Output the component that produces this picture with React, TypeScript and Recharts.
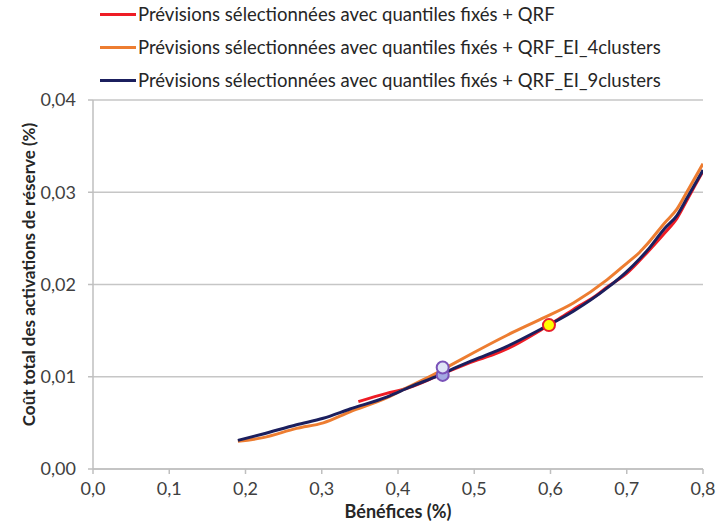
import React from 'react';
import { ComposedChart, Line, Scatter, XAxis, YAxis, CartesianGrid, Legend } from 'recharts';

const NAME_QRF = 'Prévisions sélectionnées avec quantiles fixés + QRF';
const NAME_4 = 'Prévisions sélectionnées avec quantiles fixés + QRF_EI_4clusters';
const NAME_9 = 'Prévisions sélectionnées avec quantiles fixés + QRF_EI_9clusters';

const qrfX = [0.348, 0.385, 0.41, 0.455, 0.5, 0.525, 0.545, 0.586, 0.598, 0.615, 0.63, 0.66, 0.674, 0.7, 0.726, 0.75, 0.766, 0.78, 0.8];
const qrfY = [0.0073, 0.0082, 0.0087, 0.0102, 0.0117, 0.0124, 0.0131, 0.015, 0.0156, 0.0165, 0.0173, 0.0188, 0.0197, 0.0212, 0.0234, 0.0256, 0.0272, 0.0293, 0.0323];

const c4X = [0.19, 0.223, 0.267, 0.302, 0.337, 0.385, 0.416, 0.455, 0.468, 0.499, 0.543, 0.586, 0.63, 0.674, 0.7, 0.717, 0.726, 0.75, 0.766, 0.78, 0.8];
const c4Y = [0.003, 0.0034, 0.0044, 0.005, 0.0062, 0.0077, 0.009, 0.0106, 0.0112, 0.0126, 0.0145, 0.0162, 0.018, 0.0205, 0.0223, 0.0235, 0.0243, 0.0267, 0.0282, 0.0302, 0.0331];

const c9X = [0.19, 0.223, 0.267, 0.302, 0.337, 0.385, 0.416, 0.455, 0.468, 0.499, 0.543, 0.586, 0.63, 0.674, 0.7, 0.717, 0.726, 0.75, 0.766, 0.78, 0.8];
const c9Y = [0.0031, 0.0038, 0.0048, 0.0055, 0.0065, 0.0078, 0.0089, 0.0102, 0.0107, 0.0118, 0.0133, 0.0151, 0.0171, 0.0196, 0.0214, 0.0228, 0.0236, 0.0261, 0.0275, 0.0295, 0.0324];

const markYellow = [{ x: 0.598, y: 0.0156 }];
const markLight = [{ x: 0.4586, y: 0.011 }];
const markPurple = [{ x: 0.4586, y: 0.0102 }];

const xTicks = [0, 0.1, 0.2, 0.3, 0.4, 0.5, 0.6, 0.7, 0.8];
const yTicks = [0, 0.01, 0.02, 0.03, 0.04];

const zip = (xs: number[], ys: number[]) => xs.map((x, i) => ({ x, y: ys[i] }));
const qrfData = zip(qrfX, qrfY);
const c4Data = zip(c4X, c4Y);
const c9Data = zip(c9X, c9Y);

const FONT = 'Lato, "Open Sans", sans-serif';

const renderLegend = (props: any) => {
  const items = (props.payload || []).filter((p: any) => p.type !== 'none');
  return (
    <div style={{ position: 'relative', height: 90, width: 718, fontFamily: FONT }}>
      {items.map((p: any, i: number) => (
        <div key={i} style={{ position: 'absolute', left: 100, top: 14 + i * 33 - 12, height: 24, display: 'flex', alignItems: 'center' }}>
          <div style={{ width: 36, height: 3, background: p.color }} />
          <span style={{ marginLeft: 2, fontSize: 18.5, color: '#262626', whiteSpace: 'nowrap' }}>{p.value}</span>
        </div>
      ))}
    </div>
  );
};

const dot = (fill: string, stroke: string) => (props: any) => (
  <circle cx={props.cx} cy={props.cy} r={6} fill={fill} stroke={stroke} strokeWidth={2} />
);

export default function App() {
  return (
    <div style={{ position: 'absolute', left: 0, top: 0, background: '#fff' }}>
      <ComposedChart width={718} height={526} margin={{ top: 10, right: 15, bottom: 0, left: 0 }}>
        <CartesianGrid horizontal vertical={false} stroke="#c6c6c6" strokeWidth={1.5} />
        <XAxis
          type="number"
          dataKey="x"
          domain={[0, 0.8]}
          ticks={xTicks}
          tickFormatter={(v: number) => v.toFixed(1).replace('.', ',')}
          height={57}
          stroke="#bfbfbf"
          strokeWidth={1.5}
          tickSize={5}
          tickMargin={8}
          tick={{ fill: '#404040', fontSize: 18, fontFamily: FONT }}
          allowDataOverflow
          label={{ value: 'Bénéfices (%)', position: 'insideBottom', offset: 8, fill: '#262626', fontSize: 18, fontWeight: 700, fontFamily: FONT }}
        />
        <YAxis
          type="number"
          dataKey="y"
          domain={[0, 0.04]}
          ticks={yTicks}
          tickFormatter={(v: number) => v.toFixed(2).replace('.', ',')}
          width={93}
          stroke="#bfbfbf"
          strokeWidth={1.5}
          tickSize={5}
          tickMargin={12}
          tick={{ fill: '#404040', fontSize: 18, fontFamily: FONT }}
          label={(p: any) => {
            const vb = p.viewBox || {};
            const cy = vb.y + vb.height / 2 - 10;
            return (
              <text x={28} y={cy} transform={`rotate(-90, 28, ${cy})`} textAnchor="middle" dominantBaseline="central" fill="#262626" fontSize={17} fontWeight={700} fontFamily={FONT}>
                Coût total des activations de réserve (%)
              </text>
            );
          }}
        />
        <Legend verticalAlign="top" align="left" layout="horizontal" content={renderLegend} wrapperStyle={{ top: 0, left: 0 }} />
        <Line data={qrfData} dataKey="y" name={NAME_QRF} type="monotone" stroke="#ee1c25" strokeWidth={3} dot={false} isAnimationActive={false} />
        <Line data={c4Data} dataKey="y" name={NAME_4} type="monotone" stroke="#ed7d31" strokeWidth={3} dot={false} isAnimationActive={false} />
        <Line data={c9Data} dataKey="y" name={NAME_9} type="monotone" stroke="#1b1f5e" strokeWidth={3} dot={false} isAnimationActive={false} />
        <Scatter data={markPurple} dataKey="y" legendType="none" shape={dot('#a3a9e3', '#7a52b8')} isAnimationActive={false} />
        <Scatter data={markLight} dataKey="y" legendType="none" shape={dot('#dfe4f7', '#7a52b8')} isAnimationActive={false} />
        <Scatter data={markYellow} dataKey="y" legendType="none" shape={dot('#ffff00', '#e8202a')} isAnimationActive={false} />
      </ComposedChart>
    </div>
  );
}
